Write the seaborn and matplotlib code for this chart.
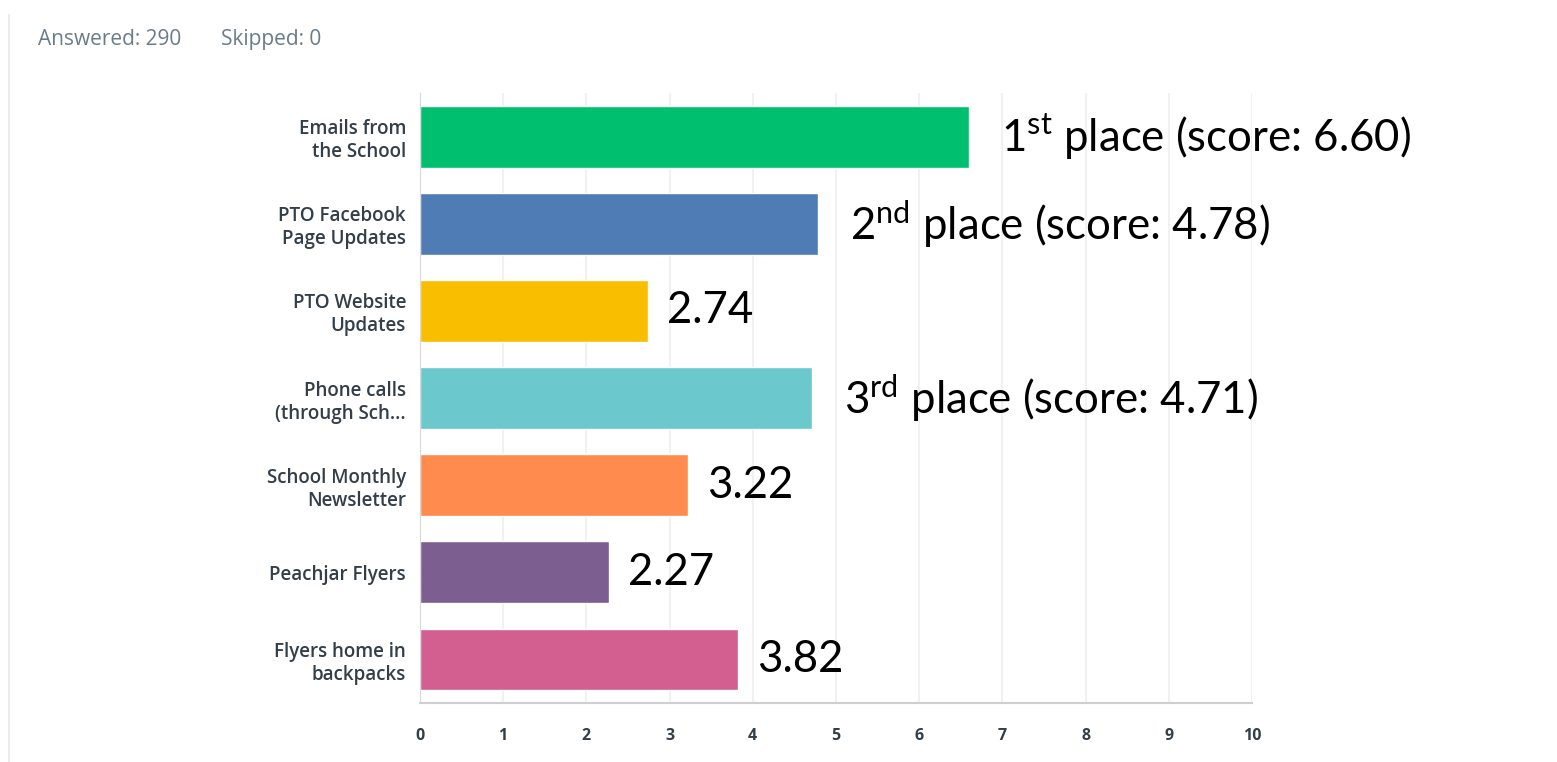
import pandas as pd
import matplotlib.pyplot as plt
import matplotlib.lines as mlines
import seaborn as sns

# data
categories = ['Emails from\nthe School', 'PTO Facebook\nPage Updates', 'PTO Website\nUpdates',
              'Phone calls\n(through Sch...', 'School Monthly\nNewsletter', 'Peachjar Flyers',
              'Flyers home in\nbackpacks']
scores = [6.60, 4.78, 2.74, 4.71, 3.22, 2.27, 3.82]
notes = [r'1$^{\mathrm{st}}$ place (score: 6.60)', r'2$^{\mathrm{nd}}$ place (score: 4.78)', '2.74',
         r'3$^{\mathrm{rd}}$ place (score: 4.71)', '3.22', '2.27', '3.82']
colors = ['#00BF6F', '#507CB6', '#F9BE00', '#6BC8CD', '#FF8B4F', '#7D5E90', '#D25F90']
xticks = list(range(0, 11))

sns.set_style('white')
plt.rcParams['font.family'] = ['Open Sans', 'DejaVu Sans']
plt.rcParams['mathtext.fontset'] = 'custom'
plt.rcParams['mathtext.rm'] = 'Lato'

df = pd.DataFrame({'cat': categories, 'score': scores})

fig = plt.figure(figsize=(15.57, 7.62), dpi=100)
ax = fig.add_axes([0.2697, 0.0774, 0.5344, 0.8005])

sns.barplot(data=df, y='cat', x='score', hue='cat', palette=colors, orient='h',
            width=0.71, legend=False, saturation=1, ax=ax)

ax.set_xlim(0, 10)
ax.set_xticks(xticks)
ax.set_xlabel('')
ax.set_ylabel('')
ax.grid(axis='x', color='#efefef', linewidth=1.2)
ax.set_axisbelow(True)
for s in ['top', 'right']:
    ax.spines[s].set_visible(False)
ax.spines['left'].set_color('#d9d9d9')
ax.spines['bottom'].set_color('#cfcfcf')
ax.spines['bottom'].set_linewidth(1.5)
ax.tick_params(axis='y', length=0, pad=10, labelsize=13.5, labelcolor='#333e48')
ax.tick_params(axis='x', length=0, pad=18, labelsize=11.5, labelcolor='#333e48')
for lbl in ax.get_xticklabels():
    lbl.set_fontweight('bold')
for lbl in ax.get_yticklabels():
    lbl.set_fontweight('semibold')
    lbl.set_linespacing(1.2)

# score annotations right of each bar
for i, (v, t) in enumerate(zip(scores, notes)):
    gap = 23 if 'place' in t else 14
    ax.annotate(t, xy=(v, i), xytext=(gap, 0), textcoords='offset points',
                va='center', ha='left', fontsize=31.5, color='black', family='Lato')

fig.text(0.0244, 0.948, 'Answered: 290', fontsize=15, color='#6a7c8a', va='center', ha='left')
fig.text(0.142, 0.948, 'Skipped: 0', fontsize=15, color='#6a7c8a', va='center', ha='left')
fig.add_artist(mlines.Line2D([0.0055, 0.0055], [0.0, 0.98], color='#ececec', linewidth=1.5))

fig.savefig('out.png', dpi=100)
